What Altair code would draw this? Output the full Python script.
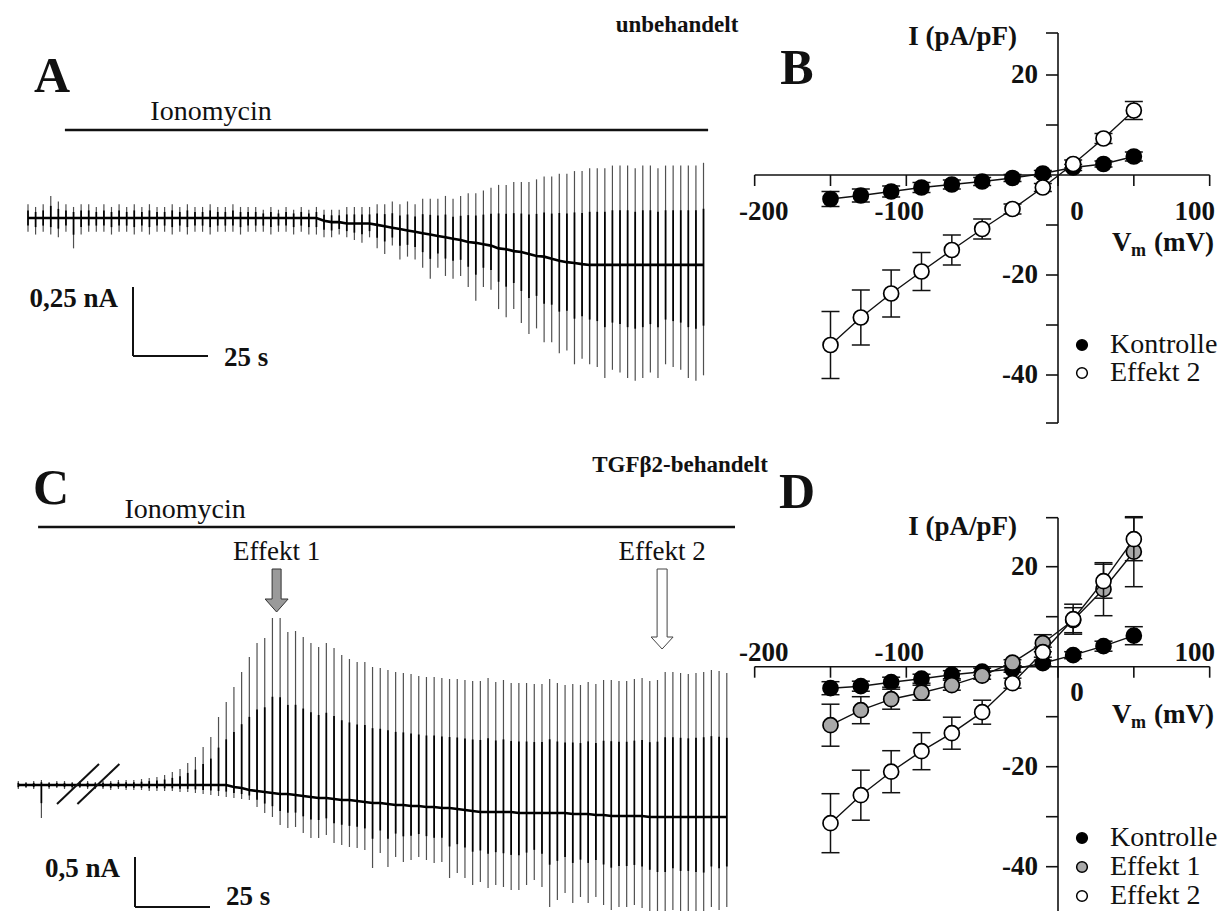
import altair as alt
import pandas as pd

OFF = 8
FONT = "Liberation Serif"
INK = "#111111"

# ---------------- Panel A: current trace, untreated (nA per sweep) ----------------
A_sweep_interval_s = 2.53
A_top_nA = [
    0.05, 0.04, 0.05, 0.08, 0.06, 0.05, 0.04, 0.05, 0.05, 0.04,
    0.05, 0.04, 0.05, 0.04, 0.05, 0.04, 0.05, 0.04, 0.04, 0.05,
    0.04, 0.05, 0.04, 0.04, 0.05, 0.04, 0.04, 0.05, 0.04, 0.04,
    0.04, 0.03, 0.04, 0.03, 0.04, 0.03, 0.04, 0.03, 0.04, 0.03,
    0.03, 0.03, 0.04, 0.04, 0.04, 0.04, 0.05, 0.05, 0.06, 0.05,
    0.06, 0.05, 0.07, 0.07, 0.07, 0.08, 0.07, 0.08, 0.09, 0.09,
    0.10, 0.11, 0.12, 0.12, 0.13, 0.13, 0.13, 0.14, 0.15, 0.15,
    0.16, 0.16, 0.17, 0.17, 0.18, 0.18, 0.18, 0.19, 0.19, 0.19,
    0.18, 0.19, 0.19, 0.18, 0.19, 0.19, 0.19, 0.19, 0.19, 0.20,
]
A_bottom_nA = [
    -0.05, -0.06, -0.05, -0.06, -0.07, -0.05, -0.11, -0.06, -0.05, -0.05,
    -0.05, -0.06, -0.05, -0.05, -0.06, -0.05, -0.06, -0.05, -0.05, -0.06,
    -0.05, -0.06, -0.05, -0.05, -0.06, -0.05, -0.05, -0.05, -0.06, -0.05,
    -0.05, -0.05, -0.06, -0.05, -0.05, -0.06, -0.05, -0.06, -0.06, -0.07,
    -0.07, -0.06, -0.07, -0.08, -0.09, -0.07, -0.11, -0.13, -0.10, -0.15,
    -0.14, -0.15, -0.18, -0.22, -0.18, -0.21, -0.22, -0.21, -0.25, -0.30,
    -0.25, -0.26, -0.33, -0.36, -0.33, -0.38, -0.42, -0.40, -0.45, -0.45,
    -0.49, -0.48, -0.53, -0.51, -0.53, -0.54, -0.58, -0.55, -0.56, -0.58,
    -0.59, -0.58, -0.56, -0.58, -0.53, -0.54, -0.55, -0.58, -0.59, -0.57,
]
A_baseline_nA = [
    0, 0, 0, 0, 0, 0, 0, 0, 0, 0,
    0, 0, 0, 0, 0, 0, 0, 0, 0, 0,
    0, 0, 0, 0, 0, 0, 0, 0, 0, 0,
    0, 0, 0, 0, 0, 0, 0, 0, 0, -0.01,
    -0.015, -0.015, -0.02, -0.02, -0.02, -0.02, -0.025, -0.03, -0.035, -0.04,
    -0.045, -0.05, -0.055, -0.06, -0.065, -0.07, -0.075, -0.08, -0.087, -0.09,
    -0.095, -0.10, -0.11, -0.113, -0.12, -0.123, -0.13, -0.138, -0.14, -0.148,
    -0.155, -0.16, -0.163, -0.167, -0.17, -0.17, -0.17, -0.17, -0.17, -0.17,
    -0.17, -0.17, -0.17, -0.17, -0.17, -0.17, -0.17, -0.17, -0.17, -0.17,
]

# ---------------- Panel C: current trace, TGFb2-treated (nA per sweep) ----------------
C_first_sweep_s = 2.1
C_sweep_interval_s = 2.567
C_top_nA = [
    0.04, 0.03, 0.04, 0.05, 0.03, 0.04, 0.04, 0.03, 0.04, 0.04, 0.03,
    0.04, 0.04, 0.05, 0.05, 0.05, 0.06, 0.07, 0.08, 0.10,
    0.13, 0.16, 0.22, 0.28, 0.38, 0.48, 0.68, 0.83, 0.98, 1.13,
    1.28, 1.42, 1.47, 1.67, 1.67, 1.53, 1.54, 1.48, 1.42, 1.38,
    1.42, 1.37, 1.30, 1.26, 1.23, 1.23, 1.18, 1.17, 1.15, 1.13,
    1.12, 1.11, 1.09, 1.08, 1.08, 1.07, 1.06, 1.06, 1.05, 1.04,
    1.04, 1.07, 1.03, 1.05, 1.02, 1.02, 1.02, 1.01, 1.01, 1.06,
    1.02, 1.00, 1.01, 1.00, 1.03, 1.01, 1.05, 1.05, 1.04, 1.04,
    1.06, 1.07, 1.04, 1.05, 1.13, 1.13, 1.12, 1.11, 1.12, 1.13,
    1.15, 1.14, 1.12,
]
C_bottom_nA = [
    -0.04, -0.03, -0.04, -0.33, -0.04, -0.03, -0.04, -0.04, -0.03, -0.04, -0.04,
    -0.04, -0.05, -0.04, -0.05, -0.05, -0.05, -0.06, -0.06, -0.06,
    -0.06, -0.07, -0.07, -0.08, -0.09, -0.10, -0.11, -0.12, -0.13, -0.14,
    -0.15, -0.22, -0.28, -0.32, -0.40, -0.43, -0.42, -0.48, -0.53, -0.53,
    -0.50, -0.58, -0.60, -0.62, -0.63, -0.65, -0.83, -0.68, -0.82, -0.72,
    -0.77, -0.75, -0.72, -0.75, -0.78, -0.77, -0.93, -0.88, -0.93, -1.00,
    -0.97, -1.03, -1.00, -1.02, -1.05, -1.05, -1.00, -0.95, -1.02, -1.22,
    -1.15, -1.08, -1.18, -1.12, -1.18, -1.12, -1.20, -1.25, -1.22, -1.22,
    -1.20, -1.23, -1.28, -1.32, -1.32, -1.25, -1.30, -1.30, -1.32, -1.33,
    -1.22, -1.25, -1.22,
]
C_baseline_nA = [
    0, 0, 0, 0, 0, 0, 0, 0, 0, 0, 0,
    0, 0, 0, 0, 0, 0, 0, 0, 0, 0, 0, 0, 0, 0, 0, 0, 0,
    -0.02, -0.03, -0.05, -0.06, -0.07, -0.08, -0.09, -0.09, -0.10, -0.11,
    -0.12, -0.13, -0.13, -0.14, -0.15, -0.15, -0.16, -0.17, -0.18, -0.18,
    -0.19, -0.20, -0.20, -0.21, -0.21, -0.22, -0.22, -0.23, -0.23, -0.24,
    -0.25, -0.26, -0.27, -0.27, -0.27, -0.27, -0.27,
    -0.28, -0.28, -0.28, -0.28, -0.28, -0.28, -0.28,
    -0.29, -0.29, -0.29, -0.30, -0.30,
    -0.31, -0.31, -0.31, -0.31, -0.31,
    -0.32, -0.32, -0.32, -0.32, -0.32, -0.32, -0.32, -0.32, -0.32, -0.32, -0.32,
]

# ---------------- Panels B / D: current-voltage relations ----------------
V_mV = [-150, -130, -110, -90, -70, -50, -30, -10, 10, 30, 50]
B_kontrolle = [-4.8, -4.1, -3.3, -2.5, -1.9, -1.3, -0.6, 0.3, 1.5, 2.2, 3.7]
B_kontrolle_err = [1.5, 1.3, 1.1, 1.0, 0.9, 0.8, 0.7, 0.6, 0.6, 0.6, 0.9]
B_effekt2 = [-34.0, -28.5, -23.7, -19.3, -15.0, -10.8, -6.8, -2.5, 2.2, 7.3, 12.9]
B_effekt2_err = [6.7, 5.5, 4.7, 3.8, 3.0, 2.0, 1.0, 0.8, 0.8, 1.0, 1.8]

D_kontrolle = [-4.3, -3.9, -3.1, -2.4, -1.6, -1.0, -0.5, 0.7, 2.3, 4.1, 6.2]
D_kontrolle_err = [1.3, 1.0, 1.0, 0.9, 0.8, 0.7, 0.6, 0.6, 0.7, 1.0, 1.8]
D_effekt1 = [-11.7, -8.7, -6.5, -5.2, -3.7, -1.8, 0.8, 4.7, 9.3, 15.5, 23.0]
D_effekt1_err = [4.2, 2.7, 2.0, 1.5, 1.0, 0.7, 0.6, 1.7, 2.5, 5.3, 7.0]
D_effekt2 = [-31.3, -25.7, -21.0, -16.9, -13.3, -9.1, -3.3, 2.9, 9.5, 17.1, 25.5]
D_effekt2_err = [5.9, 5.0, 4.2, 3.7, 3.2, 2.4, 1.0, 1.0, 3.0, 3.4, 4.3]

X_TICKS_MAJOR = [-200, -100, 0, 100]
X_TICKS_MINOR = [-150, -50, 50]
Y_TICKS = [-40, -30, -20, -10, 10, 20]
Y_TICK_LABELS = [-40, -20, 20]

COL_K = "#000000"
COL_E1 = "#a9a9a9"
COL_E2 = "#ffffff"

# layout: horizontal nudges of the x tick labels (pixels), as placed in the figure
X_LABEL_DX = {-200: 9, -100: -7, 0: 19, 100: -15}


# ---------------- scales (pixel layout of the composite) ----------------
def xscale(d0, d1, zero_px, k):
    return alt.Scale(domain=[d0, d1], range=[zero_px + d0 * k - OFF, zero_px + d1 * k - OFF],
                     nice=False, zero=False)


def yscale(d0, d1, zero_px, k):
    return alt.Scale(domain=[d0, d1], range=[zero_px - d0 * k - OFF, zero_px - d1 * k - OFF],
                     nice=False, zero=False)


SX_A = xscale(0, 240, 28, 3.0)
SY_A = yscale(-0.62, 0.42, 218, 276)
SX_C = xscale(0, 245, 12, 3.0)
SY_C = yscale(-1.45, 2.9, 785, 100)
SX_IV = xscale(-200, 100, 1058, 455 / 300)
SY_B = yscale(-49.6, 28.4, 175, 5)
SY_D = yscale(-50, 29.8, 666.7, 5)

ONE = alt.Data(values=[{"k": 0}])


def ptext(x, y, s, size, weight="normal", align="center", baseline="middle"):
    return alt.Chart(ONE).mark_text(
        text=s, font=FONT, fontSize=size, fontWeight=weight, align=align,
        baseline=baseline, color=INK
    ).encode(x=alt.value(x - OFF), y=alt.value(y - OFF))


def trace_layers(t, top, bot, base, sx, sy):
    df = pd.DataFrame({"t": t, "top": top, "bot": bot, "base": base})
    X = alt.X("t:Q", scale=sx, axis=None)
    outer = alt.Chart(df).mark_rule(color="#505050", strokeWidth=1.2).encode(
        x=X, y=alt.Y("bot:Q", scale=sy, axis=None), y2="top:Q")
    inner = alt.Chart(df).transform_calculate(
        it="datum.base + 0.55*(datum.top - datum.base)",
        ib="datum.base + 0.55*(datum.bot - datum.base)",
    ).mark_rule(color="#000000", strokeWidth=1.7).encode(
        x=X, y=alt.Y("ib:Q", scale=sy, axis=None), y2="it:Q")
    line = alt.Chart(df).mark_line(color="#000000", strokeWidth=2.6).encode(
        x=X, y=alt.Y("base:Q", scale=sy, axis=None))
    return [outer, inner, line]


def scalebar_layers(t0, v_bottom, len_s, len_nA, label_nA, sx, sy, s_dy):
    df = pd.DataFrame({"t": [t0], "tend": [t0 + len_s], "vb": [v_bottom], "vt": [v_bottom + len_nA]})
    vert = alt.Chart(df).mark_rule(color=INK, strokeWidth=2).encode(
        x=alt.X("t:Q", scale=sx, axis=None), y=alt.Y("vb:Q", scale=sy, axis=None), y2="vt:Q")
    hor = alt.Chart(df).mark_rule(color=INK, strokeWidth=2).encode(
        x=alt.X("t:Q", scale=sx, axis=None), x2="tend:Q", y=alt.Y("vb:Q", scale=sy, axis=None))
    lab1 = alt.Chart(df).mark_text(text=label_nA, font=FONT, fontSize=27, fontWeight="bold",
                                   align="right", baseline="middle", dx=-15, dy=12, color=INK).encode(
        x=alt.X("t:Q", scale=sx, axis=None), y=alt.Y("vt:Q", scale=sy, axis=None))
    lab2 = alt.Chart(df).mark_text(text=f"{len_s} s", font=FONT, fontSize=27, fontWeight="bold",
                                   align="left", baseline="middle", dx=16, dy=s_dy, color=INK).encode(
        x=alt.X("tend:Q", scale=sx, axis=None), y=alt.Y("vb:Q", scale=sy, axis=None))
    return [vert, hor, lab1, lab2]


def drug_bar_layers(t0, t1, v, label_t, label_v, sx, sy):
    df = pd.DataFrame({"a": [t0], "b": [t1], "v": [v]})
    bar = alt.Chart(df).mark_rule(color=INK, strokeWidth=2.6).encode(
        x=alt.X("a:Q", scale=sx, axis=None), x2="b:Q", y=alt.Y("v:Q", scale=sy, axis=None))
    ldf = pd.DataFrame({"t": [label_t], "v": [label_v]})
    lab = alt.Chart(ldf).mark_text(text="Ionomycin", font=FONT, fontSize=28, align="center",
                                   baseline="middle", color=INK).encode(
        x=alt.X("t:Q", scale=sx, axis=None), y=alt.Y("v:Q", scale=sy, axis=None))
    return [bar, lab]


def iv_layers(sy, ylo, yhi, series, nonzero_dy, zero_dy):
    X = lambda f: alt.X(f, scale=SX_IV, axis=None)
    Y = lambda f: alt.Y(f, scale=sy, axis=None)
    L = []
    L.append(alt.Chart(pd.DataFrame({"a": [-200], "b": [100], "y": [0]})).mark_rule(
        color=INK, strokeWidth=1.6).encode(x=X("a:Q"), x2="b:Q", y=Y("y:Q")))
    L.append(alt.Chart(pd.DataFrame({"x": [0], "a": [ylo], "b": [yhi]})).mark_rule(
        color=INK, strokeWidth=1.6).encode(x=X("x:Q"), y=Y("a:Q"), y2="b:Q"))
    L.append(alt.Chart(pd.DataFrame({"V": X_TICKS_MAJOR + X_TICKS_MINOR, "y": 0})).mark_tick(
        orient="vertical", size=11, thickness=1.6, color=INK, yOffset=5.5, opacity=1).encode(
        x=X("V:Q"), y=Y("y:Q")))
    L.append(alt.Chart(pd.DataFrame({"I": Y_TICKS + [ylo, yhi], "x": 0})).mark_tick(
        orient="horizontal", size=12, thickness=1.6, color=INK, xOffset=-6, opacity=1).encode(
        x=X("x:Q"), y=Y("I:Q")))
    for v in X_TICKS_MAJOR:
        L.append(alt.Chart(pd.DataFrame({"V": [v], "y": [0], "lab": [str(v)]})).mark_text(
            font=FONT, fontSize=27, fontWeight="bold", align="center", baseline="middle",
            dx=X_LABEL_DX[v], dy=(zero_dy if v == 0 else nonzero_dy), color=INK).encode(
            x=X("V:Q"), y=Y("y:Q"), text="lab:N"))
    L.append(alt.Chart(pd.DataFrame({"I": Y_TICK_LABELS, "x": 0,
                                     "lab": [str(v) for v in Y_TICK_LABELS]})).mark_text(
        font=FONT, fontSize=27, fontWeight="bold", align="right", baseline="middle",
        dx=-20, color=INK).encode(x=X("x:Q"), y=Y("I:Q"), text="lab:N"))
    for vals, errs, fill in series:
        df = pd.DataFrame({"V": V_mV, "I": vals,
                           "lo": [v - e for v, e in zip(vals, errs)],
                           "hi": [v + e for v, e in zip(vals, errs)]})
        L.append(alt.Chart(df).mark_rule(color=INK, strokeWidth=1.5).encode(
            x=X("V:Q"), y=Y("lo:Q"), y2="hi:Q"))
        for f in ("lo:Q", "hi:Q"):
            L.append(alt.Chart(df).mark_tick(orient="horizontal", size=18, thickness=1.5,
                                             color=INK, opacity=1).encode(x=X("V:Q"), y=Y(f)))
        L.append(alt.Chart(df).mark_line(color=INK, strokeWidth=1.4).encode(
            x=X("V:Q"), y=Y("I:Q")))
        L.append(alt.Chart(df).mark_point(shape="circle", filled=True, fill=fill, stroke="#000000",
                                          strokeWidth=1.7, size=225, opacity=1).encode(
            x=X("V:Q"), y=Y("I:Q")))
    return L


def legend_layers(entries, x_marker, x_text, ys):
    L = []
    for (name, fill), y in zip(entries, ys):
        L.append(alt.Chart(ONE).mark_point(shape="circle", filled=True, fill=fill, stroke="#000000",
                                           strokeWidth=1.5, size=115, opacity=1).encode(
            x=alt.value(x_marker - OFF), y=alt.value(y - OFF)))
        L.append(ptext(x_text, y, name, 28, align="left"))
    return L


def axis_titles(y_I, y_V):
    return [
        ptext(1017, y_I, "I (pA/pF)", 27, "bold", align="right"),
        ptext(1112, y_V, "V", 27, "bold", align="left"),
        ptext(1131, y_V + 8, "m", 18, "bold", align="left"),
        ptext(1154, y_V, "(mV)", 27, "bold", align="left"),
    ]


layers = []

# titles and panel letters
layers += [
    ptext(677, 25, "unbehandelt", 23, "bold"),
    ptext(680, 465, "TGFβ2-behandelt", 23, "bold"),
    ptext(52, 77, "A", 50, "bold"),
    ptext(797, 69, "B", 50, "bold"),
    ptext(51, 489, "C", 50, "bold"),
    ptext(797, 493, "D", 50, "bold"),
]

# ---- panel A ----
A_t = [i * A_sweep_interval_s for i in range(len(A_top_nA))]
layers += trace_layers(A_t, A_top_nA, A_bottom_nA, A_baseline_nA, SX_A, SY_A)
layers += drug_bar_layers(12.3, 226.7, 0.319, 61, 0.384, SX_A, SY_A)
layers += scalebar_layers(35, -0.5, 25, 0.25, "0,25 nA", SX_A, SY_A, s_dy=2)

# ---- panel C ----
C_t = [C_first_sweep_s + k * C_sweep_interval_s for k in range(len(C_top_nA))]
layers += trace_layers(C_t, C_top_nA, C_bottom_nA, C_baseline_nA, SX_C, SY_C)
layers += drug_bar_layers(8.7, 241, 2.58, 57.7, 2.75, SX_C, SY_C)
layers += scalebar_layers(41, -1.22, 25, 0.5, "0,5 nA", SX_C, SY_C, s_dy=-10)
# break marks
brk = pd.DataFrame({"a": [15.0, 21.8], "b": [29.0, 35.8], "v0": [-0.19, -0.19], "v1": [0.21, 0.21]})
layers.append(alt.Chart(brk).mark_rule(color=INK, strokeWidth=2).encode(
    x=alt.X("a:Q", scale=SX_C, axis=None), x2="b:Q",
    y=alt.Y("v0:Q", scale=SY_C, axis=None), y2="v1:Q"))
# effect labels and arrows
eff = pd.DataFrame({"t": [88.2, 216.7], "lab": ["Effekt 1", "Effekt 2"], "v": [2.33, 2.33]})
layers.append(alt.Chart(eff).mark_text(font=FONT, fontSize=27, align="center", baseline="middle",
                                       color=INK).encode(
    x=alt.X("t:Q", scale=SX_C, axis=None), y=alt.Y("v:Q", scale=SY_C, axis=None), text="lab:N"))
ARROW1 = "M -4.5 0 L 4.5 0 L 4.5 30 L 11.5 30 L 0 43 L -11.5 30 L -4.5 30 Z"
ARROW2 = "M -5 0 L 5 0 L 5 68 L 11 68 L 0 80 L -11 68 L -5 68 Z"
layers.append(alt.Chart(pd.DataFrame({"t": [88.2], "v": [2.16]})).mark_point(
    shape=ARROW1, size=4, filled=True, fill="#9a9a9a", stroke="#333333", strokeWidth=1,
    opacity=1).encode(x=alt.X("t:Q", scale=SX_C, axis=None), y=alt.Y("v:Q", scale=SY_C, axis=None)))
layers.append(alt.Chart(pd.DataFrame({"t": [216.7], "v": [2.16]})).mark_point(
    shape=ARROW2, size=4, filled=True, fill="#ffffff", stroke="#444444", strokeWidth=1,
    opacity=1).encode(x=alt.X("t:Q", scale=SX_C, axis=None), y=alt.Y("v:Q", scale=SY_C, axis=None)))

# ---- panel B ----
layers += iv_layers(SY_B, -49.6, 28.4,
                    [(B_kontrolle, B_kontrolle_err, COL_K), (B_effekt2, B_effekt2_err, COL_E2)],
                    nonzero_dy=37, zero_dy=37)
layers += axis_titles(37, 243)
layers += legend_layers([("Kontrolle", COL_K), ("Effekt 2", COL_E2)], 1082, 1110, [345, 373])

# ---- panel D ----
layers += iv_layers(SY_D, -50, 29.8,
                    [(D_kontrolle, D_kontrolle_err, COL_K), (D_effekt1, D_effekt1_err, COL_E1),
                     (D_effekt2, D_effekt2_err, COL_E2)],
                    nonzero_dy=-14, zero_dy=26)
layers += axis_titles(527, 715)
layers += legend_layers([("Kontrolle", COL_K), ("Effekt 1", COL_E1), ("Effekt 2", COL_E2)],
                        1082, 1110, [838, 867, 896])

chart = alt.layer(*layers).resolve_scale(x="independent", y="independent").properties(
    width=1212, height=903, padding=0,
    autosize=alt.AutoSizeParams(type="none"),
).configure_view(stroke=None)

chart.save("out.html", embed_options={"renderer": "svg", "actions": False})
